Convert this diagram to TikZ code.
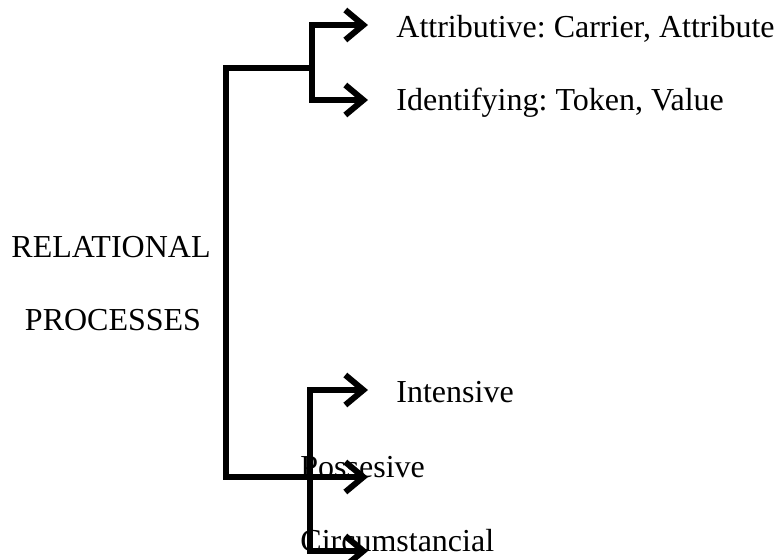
\documentclass[tikz,border=0pt]{standalone}
\usepackage{fontspec}
\setmainfont{Liberation Serif}
\usetikzlibrary{arrows.meta,positioning}
\tikzset{
  branch/.style={line width=2.8pt,line join=miter,draw=black},
  leaf/.style={branch,-{Straight Barb[length=9pt,width=15pt,line width=3pt]}},
  itemtext/.style={font=\fontsize{16}{19}\selectfont,anchor=base west,inner sep=0pt},
  headtext/.style={font=\fontsize{16}{19}\selectfont,anchor=base,inner sep=0pt}
}
\frenchspacing
\begin{document}
\begin{tikzpicture}[x=0.5pt,y=-0.5pt]
  \useasboundingbox (0,0) rectangle (779,559);
  % labels
  \node[headtext] (rel) at (111,257) {RELATIONAL};
  \node[headtext] (proc) at (113,330) {PROCESSES};
  \node[itemtext] (attr) at (396,37) {Attributive: Carrier, Attribute};
  \node[itemtext] (ident) at (396,110) {Identifying: Token, Value};
  \node[itemtext] (inten) at (396,402) {Intensive};
  \node[itemtext] (poss) at (300,477) {Possesive};
  \node[itemtext] (circ) at (300,551) {Circumstancial};
  % branch points and arrow ends
  \coordinate (stemtop) at (226,68);
  \coordinate (stembot) at (226,477);
  \coordinate (upfork) at (312,68);
  \coordinate (lowfork) at (310,477);
  \coordinate (attrtip) at (368,25);
  \coordinate (identtip) at (368,100);
  \coordinate (intentip) at (368,390);
  \coordinate (posstip) at (368,477);
  \coordinate (circtip) at (368,551);
  % connectors
  \draw[leaf] (upfork) -- (stemtop) -- (stembot) -- (posstip);
  \draw[leaf] (upfork) |- (attrtip);
  \draw[leaf] (upfork) |- (identtip);
  \draw[leaf] (lowfork) |- (intentip);
  \draw[leaf] (lowfork) |- (circtip);
\end{tikzpicture}
\end{document}
